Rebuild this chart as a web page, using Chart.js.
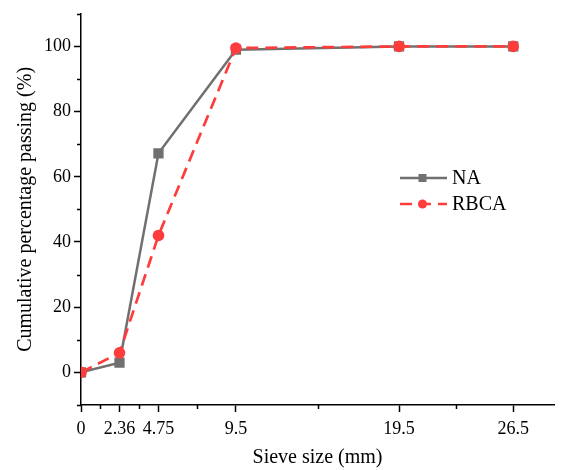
<!DOCTYPE html>
<html>
<head>
<meta charset="utf-8">
<script src="https://cdn.jsdelivr.net/npm/chart.js@4.4.0/dist/chart.umd.min.js"></script>
<style>
  html, body { margin: 0; padding: 0; background: #fff; }
</style>
</head>
<body>
<canvas id="grading" width="562" height="470"></canvas>
<script>
// sieve sizes (mm) and cumulative passing (%)
const sieveSizes = [0, 2.36, 4.75, 9.5, 19.5, 26.5];
const naPassing = [0, 3, 67.2, 99, 100, 100];
const rbcaPassing = [0, 6, 42, 99.5, 100, 100];

const seriesNames = ['NA', 'RBCA'];
const yTicks = [0, 20, 40, 60, 80, 100];
const yMinorTicks = [-10, 10, 30, 50, 70, 90, 110];
const xMinorTicks = [1.18, 3.555, 7.125, 14.5, 23];

const grey = 'rgb(112,112,112)';
const red = 'rgb(255,60,60)';
const serif = "'Liberation Serif', 'Times New Roman', serif";

function toPoints(ys) {
  return sieveSizes.map((x, i) => ({ x: x, y: ys[i] }));
}

// small ticks between the labelled ones
const minorTicks = {
  id: 'minorTicks',
  afterDraw(chart) {
    const ctx = chart.ctx;
    const xs = chart.scales.x;
    const ys = chart.scales.y;
    const area = chart.chartArea;
    ctx.save();
    ctx.strokeStyle = '#000';
    ctx.lineWidth = 1.5;
    ctx.beginPath();
    yMinorTicks.forEach(v => {
      const p = Math.round(ys.getPixelForValue(v)) + 0.5;
      ctx.moveTo(area.left, p);
      ctx.lineTo(area.left - 4, p);
    });
    xMinorTicks.forEach(v => {
      const p = Math.round(xs.getPixelForValue(v)) + 0.5;
      ctx.moveTo(p, area.bottom);
      ctx.lineTo(p, area.bottom + 4);
    });
    ctx.stroke();
    ctx.restore();
  }
};

// legend drawn inside the plot, like the original figure
const insideLegend = {
  id: 'insideLegend',
  afterDraw(chart) {
    const ctx = chart.ctx;
    const x0 = 400, x1 = 447, textX = 452;
    const rows = [178, 204];
    ctx.save();
    chart.data.datasets.forEach((ds, i) => {
      const y = rows[i];
      ctx.strokeStyle = ds.borderColor;
      ctx.lineWidth = ds.borderWidth;
      ctx.setLineDash(ds.borderDash || []);
      ctx.beginPath();
      ctx.moveTo(x0, y);
      ctx.lineTo(x1, y);
      ctx.stroke();
      ctx.setLineDash([]);
      ctx.fillStyle = ds.pointBackgroundColor;
      const mx = (x0 + x1) / 2 - 1;
      if (ds.pointStyle === 'rect') {
        ctx.fillRect(mx - 4, y - 4, 8, 8);
      } else {
        ctx.beginPath();
        ctx.arc(mx, y, 4.5, 0, Math.PI * 2);
        ctx.fill();
      }
      ctx.fillStyle = '#000';
      ctx.font = '20px ' + serif;
      ctx.textBaseline = 'middle';
      ctx.fillText(ds.label, textX, y + 1);
    });
    ctx.restore();
  }
};

new Chart(document.getElementById('grading'), {
  type: 'line',
  data: {
    datasets: [
      {
        label: seriesNames[0],
        data: toPoints(naPassing),
        borderColor: grey,
        backgroundColor: grey,
        pointBackgroundColor: grey,
        pointBorderColor: grey,
        borderWidth: 2.5,
        pointStyle: 'rect',
        pointRadius: 5.5,
        order: 1
      },
      {
        label: seriesNames[1],
        data: toPoints(rbcaPassing),
        borderColor: red,
        backgroundColor: red,
        pointBackgroundColor: red,
        pointBorderColor: red,
        borderWidth: 2.7,
        borderDash: [12, 7],
        pointStyle: 'circle',
        pointRadius: 4.5,
        order: 0
      }
    ]
  },
  options: {
    responsive: false,
    animation: false,
    layout: { padding: { top: 11, right: 6, left: 0, bottom: 0 } },
    plugins: {
      legend: { display: false },
      tooltip: { enabled: false }
    },
    scales: {
      x: {
        type: 'linear',
        min: 0,
        max: 29,
        afterBuildTicks: s => { s.ticks = sieveSizes.map(v => ({ value: v })); },
        afterFit: s => { s.height = 65; },
        ticks: {
          color: '#000',
          font: { family: serif, size: 18 },
          padding: 6,
          maxRotation: 0,
          callback: v => String(v)
        },
        grid: { drawOnChartArea: false, tickLength: 7, tickColor: '#000', tickWidth: 1.5 },
        border: { color: '#000', width: 1.5 },
        title: {
          display: true,
          text: 'Sieve size (mm)',
          color: '#000',
          font: { family: serif, size: 20 },
          padding: { top: 5, bottom: 0 }
        }
      },
      y: {
        min: -10,
        max: 110,
        afterBuildTicks: s => { s.ticks = yTicks.map(v => ({ value: v })); },
        afterFit: s => { s.width = 81; },
        ticks: {
          color: '#000',
          font: { family: serif, size: 18 },
          padding: 3
        },
        grid: { drawOnChartArea: false, tickLength: 7, tickColor: '#000', tickWidth: 1.5 },
        border: { color: '#000', width: 1.5 },
        title: {
          display: true,
          text: 'Cumulative percentage passing (%)',
          color: '#000',
          font: { family: serif, size: 20 },
          padding: { top: 14, bottom: 0 }
        }
      }
    }
  },
  plugins: [minorTicks, insideLegend]
});
</script>
</body>
</html>
